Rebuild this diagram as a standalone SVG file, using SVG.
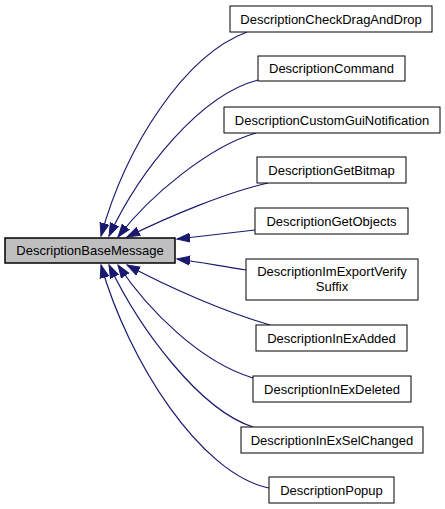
<svg xmlns="http://www.w3.org/2000/svg" width="445" height="509" viewBox="0 0 445 509">
<style>
.n rect{fill:#fff;stroke:#000;stroke-width:1}
.b rect{fill:#bfbfbf;stroke:#000;stroke-width:1.5}
text{font-family:"Liberation Sans",Arial,sans-serif;font-size:13px;text-anchor:middle;fill:#000}
.e path{fill:none;stroke:#191970;stroke-width:1.2;marker-end:url(#a)}
</style>
<defs>
<marker id="a" markerUnits="userSpaceOnUse" markerWidth="15" markerHeight="11" refX="13" refY="5.5" orient="auto">
<path d="M0,1 L13,5.5 L0,10 Z" fill="#191970" stroke="#191970"/>
</marker>
</defs>
<g id="edges" class="e">
<path d="M247,32 C185,55 126,145 101,236"/>
<path d="M258,80 C200,95 140,170 109,236"/>
<path d="M256,133 C210,146 150,195 118,237"/>
<path d="M268,183 C228,192 172,215 127,237"/>
<path d="M255,230 C230,233 205,236 177,239"/>
<path d="M246,270 C225,267 200,262 177,259"/>
<path d="M270,325 C225,312 170,288 127,265"/>
<path d="M253,378 C200,362 148,310 118,265"/>
<path d="M253,427 C200,410 140,330 109,265"/>
<path d="M269,488 C200,474 128,360 101,265"/>
</g>
<g id="DescriptionBaseMessage" class="b"><rect x="5" y="238" width="170" height="25"/><text x="90" y="255">DescriptionBaseMessage</text></g>
<g id="DescriptionCheckDragAndDrop" class="n"><rect x="230" y="6" width="202" height="26"/><text x="331" y="24">DescriptionCheckDragAndDrop</text></g>
<g id="DescriptionCommand" class="n"><rect x="258" y="56" width="147" height="25"/><text x="331.5" y="73">DescriptionCommand</text></g>
<g id="DescriptionCustomGuiNotification" class="n"><rect x="224" y="107" width="216" height="26"/><text x="332" y="125">DescriptionCustomGuiNotification</text></g>
<g id="DescriptionGetBitmap" class="n"><rect x="257" y="157" width="149" height="26"/><text x="331.5" y="175">DescriptionGetBitmap</text></g>
<g id="DescriptionGetObjects" class="n"><rect x="255" y="208" width="153" height="26"/><text x="331.5" y="226">DescriptionGetObjects</text></g>
<g id="DescriptionImExportVerifySuffix" class="n"><rect x="246" y="259" width="172" height="41"/><text x="332" y="276">DescriptionImExportVerify</text><text x="332" y="291">Suffix</text></g>
<g id="DescriptionInExAdded" class="n"><rect x="256" y="325" width="151" height="26"/><text x="331.5" y="343">DescriptionInExAdded</text></g>
<g id="DescriptionInExDeleted" class="n"><rect x="253" y="376" width="158" height="26"/><text x="332" y="394">DescriptionInExDeleted</text></g>
<g id="DescriptionInExSelChanged" class="n"><rect x="241" y="427" width="182" height="26"/><text x="332" y="445">DescriptionInExSelChanged</text></g>
<g id="DescriptionPopup" class="n"><rect x="269" y="477" width="125" height="26"/><text x="331.5" y="495">DescriptionPopup</text></g>
</svg>
